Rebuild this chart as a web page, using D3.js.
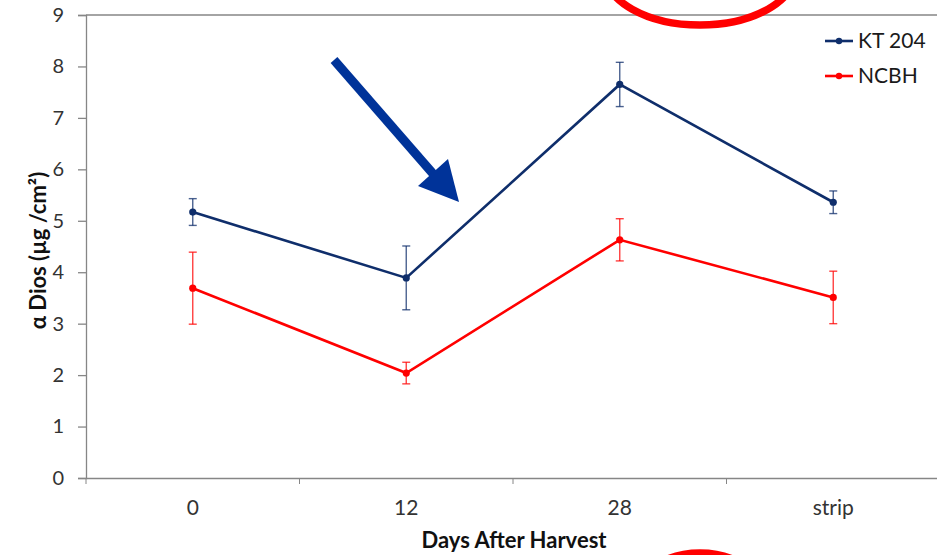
<!DOCTYPE html>
<html>
<head>
<meta charset="utf-8">
<script src="https://cdn.jsdelivr.net/npm/d3@7"></script>
<style>
  html, body { margin: 0; padding: 0; background: #fff; }
  svg { display: block; }
</style>
</head>
<body>
<svg id="chart" width="937" height="555"></svg>
<script>
// Sampling days (x categories)
const categories = ["0", "12", "28", "strip"];

// Series means
const kt204 = [5.17, 3.89, 7.65, 5.36];
const ncbh  = [3.69, 2.04, 4.63, 3.51];

// Error bar half-widths
const kt204Err = [0.26, 0.62, 0.43, 0.22];
const ncbhErr  = [0.70, 0.21, 0.41, 0.51];

const seriesNames = ["KT 204", "NCBH"];
const yTicks = [0, 1, 2, 3, 4, 5, 6, 7, 8, 9];

const FONT = "Lato, 'Open Sans', 'Liberation Sans', sans-serif";
const AXIS = "#868686";
const TEXT = "#333333";
const colors = ["#0f2e6b", "#ff0000"];

const svg = d3.select("#chart");

const plot = { left: 86, right: 940, top: 15, bottom: 478 };

const x = d3.scaleBand().domain(categories).range([plot.left, plot.right]);
const y = d3.scaleLinear().domain([0, 9]).range([plot.bottom, plot.top]);
const cx = c => x(c) + x.bandwidth() / 2;

// Top frame line
svg.append("line")
  .attr("x1", plot.left).attr("x2", plot.right)
  .attr("y1", y(9)).attr("y2", y(9))
  .attr("stroke", AXIS).attr("stroke-width", 1.3);

// Y axis
const yAxis = svg.append("g")
  .attr("transform", `translate(${plot.left},0)`)
  .call(d3.axisLeft(y).tickValues(yTicks).tickSize(8).tickPadding(14).tickFormat(d3.format("d")));
yAxis.select(".domain").attr("stroke", AXIS).attr("stroke-width", 1.3);
yAxis.selectAll(".tick line").attr("stroke", AXIS).attr("stroke-width", 1.3);
yAxis.selectAll(".tick text")
  .attr("fill", TEXT).style("font-family", FONT).style("font-size", "20px");

// X axis: ticks sit on category boundaries
const xAxis = svg.append("g")
  .attr("transform", `translate(0,${plot.bottom})`)
  .call(d3.axisBottom(x).tickSize(0).tickPadding(22));
xAxis.select(".domain").attr("stroke", AXIS).attr("stroke-width", 1.3);
xAxis.selectAll(".tick text")
  .attr("fill", TEXT).style("font-family", FONT).style("font-size", "21px");
xAxis.selectAll(".bound")
  .data(categories)
  .enter().append("line")
  .attr("class", "bound")
  .attr("x1", c => x(c)).attr("x2", c => x(c))
  .attr("y1", 0).attr("y2", 6)
  .attr("stroke", AXIS).attr("stroke-width", 1);

// Axis titles
svg.append("text")
  .attr("x", (plot.left + plot.right) / 2 + 1)
  .attr("y", 548)
  .attr("text-anchor", "middle")
  .style("font-family", FONT).style("font-size", "22px").style("font-weight", "bold")
  .attr("fill", "#111")
  .text("Days After Harvest");

svg.append("text")
  .attr("transform", `translate(46,${(plot.top + plot.bottom) / 2 + 4}) rotate(-90)`)
  .attr("text-anchor", "middle")
  .style("font-family", FONT).style("font-size", "22px").style("font-weight", "bold")
  .attr("fill", "#111")
  .text("α Dios (µg /cm²)");

// Series
const series = [
  { name: seriesNames[0], values: kt204, err: kt204Err, color: colors[0] },
  { name: seriesNames[1], values: ncbh, err: ncbhErr, color: colors[1] }
];

const line = d3.line().x(d => cx(d.c)).y(d => y(d.v));

series.forEach(s => {
  const pts = categories.map((c, i) => ({ c, v: s.values[i], e: s.err[i] }));
  const g = svg.append("g");

  // Error bars
  const eb = g.selectAll(".eb").data(pts).enter().append("g")
    .attr("stroke", s.color).attr("stroke-width", 1.4).attr("stroke-opacity", 0.75);
  eb.append("line")
    .attr("x1", d => cx(d.c)).attr("x2", d => cx(d.c))
    .attr("y1", d => y(d.v + d.e)).attr("y2", d => y(d.v - d.e));
  eb.append("line")
    .attr("x1", d => cx(d.c) - 4).attr("x2", d => cx(d.c) + 4)
    .attr("y1", d => y(d.v + d.e)).attr("y2", d => y(d.v + d.e));
  eb.append("line")
    .attr("x1", d => cx(d.c) - 4).attr("x2", d => cx(d.c) + 4)
    .attr("y1", d => y(d.v - d.e)).attr("y2", d => y(d.v - d.e));

  g.append("path")
    .datum(pts)
    .attr("d", line)
    .attr("fill", "none")
    .attr("stroke", s.color)
    .attr("stroke-width", 2.6);

  g.selectAll(".pt").data(pts).enter().append("circle")
    .attr("cx", d => cx(d.c)).attr("cy", d => y(d.v))
    .attr("r", 3.6).attr("fill", s.color);
});

// Legend
const legend = svg.append("g").attr("transform", "translate(825,41)");
series.forEach((s, i) => {
  const row = legend.append("g").attr("transform", `translate(0,${i * 35})`);
  row.append("line").attr("x1", 0).attr("x2", 28).attr("y1", 0).attr("y2", 0)
    .attr("stroke", s.color).attr("stroke-width", 2.6);
  row.append("circle").attr("cx", 14).attr("cy", 0).attr("r", 3.2).attr("fill", s.color);
  row.append("text").attr("x", 33).attr("y", 0).attr("dy", "0.35em")
    .attr("fill", "#1a1a1a")
    .style("font-family", FONT).style("font-size", "21px")
    .text(s.name);
});

// Annotations: arrow and circled highlights
const arrowColor = "#003399";
svg.append("line")
  .attr("x1", 334).attr("y1", 60).attr("x2", 435).attr("y2", 176)
  .attr("stroke", arrowColor).attr("stroke-width", 9);
svg.append("path")
  .attr("d", "M459,202 L418,186 L448,159 Z")
  .attr("fill", arrowColor);

svg.append("ellipse")
  .attr("cx", 700).attr("cy", -29).attr("rx", 96).attr("ry", 54)
  .attr("fill", "none").attr("stroke", "#ff0000").attr("stroke-width", 7.5);
svg.append("ellipse")
  .attr("cx", 700).attr("cy", 601).attr("rx", 66).attr("ry", 48)
  .attr("fill", "none").attr("stroke", "#ff0000").attr("stroke-width", 7.5);
</script>
</body>
</html>
